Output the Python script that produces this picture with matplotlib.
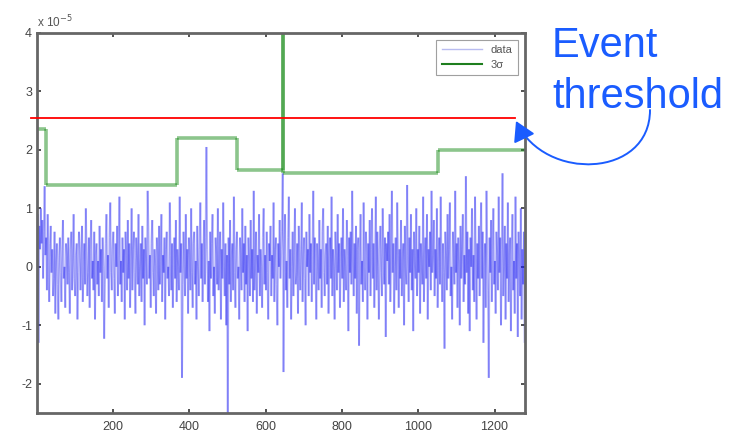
import matplotlib.pyplot as plt
import numpy as np
from matplotlib.collections import LineCollection
from matplotlib.lines import Line2D
from matplotlib.patches import FancyArrowPatch
from matplotlib.path import Path

plt.rcParams["font.family"] = ["Liberation Sans", "DejaVu Sans"]
plt.rcParams["axes.unicode_minus"] = False

# data trace (x 1e-5), one sample every 2 points
data_step = 2
data_vals = [
    0.5, 0.9, -1.3, 0.7, 0.3, 1.0, 0.4, 0.8, -0.2, 0.6, 1.38, 0.2, 0.5, -0.4, 0.9, 0.1, -0.6, 0.4, 0.7, -0.1,
    0.3, -0.5, -0.2, 0.6, -0.8, 0.1, 0.4, -0.3, -0.9, 0.2, 0.5, -0.1, -0.6, 0.3, 0.8, -0.2, 0.0, -0.7, 0.4, 0.2,
    -0.3, 0.5, -0.1, -0.8, 0.3, 0.6, -0.4, 0.1, 0.9, -0.2, -0.5, 0.2, 0.4, -0.9, -0.1, 0.6, 0.3, -0.4, 0.1, 0.7,
    -0.6, 0.0, 0.4, -0.3, 1.0, 0.2, -0.5, -0.1, 0.5, -0.7, 0.3, 0.8, -0.2, 0.1, -0.4, 0.6, -0.9, 0.2, 0.4, -0.3,
    0.1, -0.5, 0.7, -0.1, 0.3, -0.6, 0.5, 0.0, -1.23, -0.3, 0.4, 0.9, -0.2, 0.2, -0.7, 0.5, 1.1, -0.1, -0.4, 0.3,
    0.6, -0.2, -0.8, 0.4, 0.0, 0.7, -0.5, 0.2, 1.2, -0.3, 0.1, -0.6, 0.5, -0.1, 0.3, -0.9, 0.6, 0.2, -0.4, 0.8,
    -0.2, 0.4, -0.7, 0.1, 1.0, -0.4, 0.3, 0.6, -0.1, -0.8, 0.5, 0.2, -0.3, 0.9, -0.5, 0.0, 0.4, -0.6, 0.7, -0.2,
    0.3, -1.0, 0.5, 0.1, -0.3, 1.3, 0.6, -0.2, 0.2, -0.7, 0.4, 0.8, -0.1, -0.5, 0.3, 0.0, -0.8, 0.5, 0.2, -0.4,
    0.7, -0.3, 0.1, 0.9, -0.6, 0.2, -0.1, 0.5, -0.9, 0.3, 0.6, -0.2, 0.0, -0.5, 1.1, 0.2, -0.4, 0.4, -0.7, 0.1,
    0.5, -0.2, 0.8, -0.6, 0.3, 0.0, -0.4, 1.2, -0.1, 0.4, -1.9, -0.3, 0.6, 0.1, -0.5, 0.9, -0.2, 0.3, -0.8, 0.5,
    0.2, -0.4, 1.0, -0.1, -0.7, 0.4, 0.6, -0.3, 0.1, -0.9, 0.7, 0.0, -0.5, 0.3, 1.1, -0.2, 0.4, -0.6, 0.2, 0.8,
    -0.3, 0.5, 2.05, 0.3, -0.6, 0.1, -1.1, 0.6, -0.2, 0.4, 0.9, -0.5, 0.0, -0.8, 0.5, 0.2, -0.3, 1.0, -0.4, 0.1,
    0.6, -0.9, 0.3, -0.2, 1.1, 0.0, -0.5, 0.4, -1.0, 0.2, -2.5, 0.5, -0.3, 0.8, -0.6, 0.1, 0.4, -0.4, 1.2, -0.1,
    -0.7, 0.3, 0.6, -0.2, 0.0, -0.9, 0.5, 0.2, -0.4, 1.0, -0.1, 0.4, -0.6, 0.7, -0.3, 0.2, -1.1, 0.5, 0.1, -0.5,
    0.8, -0.2, 0.3, -0.6, 1.3, -0.4, 0.1, 0.6, -0.8, 0.2, -0.1, 0.9, -0.5, 0.3, 0.0, -0.7, 0.5, 1.0, -0.3, 0.2,
    -0.4, 0.6, -0.1, -0.9, 0.4, 0.1, 0.7, -0.5, 0.2, -0.2, 1.1, -0.6, 0.3, 0.5, -0.3, -1.0, 0.4, 0.0, 0.8, -0.2,
    0.3, 0.6, 1.6, -1.8, 0.2, 0.9, -0.4, 0.1, -0.7, 0.5, 1.2, -0.2, 0.3, -0.9, 0.0, 0.6, -0.5, 0.2, 1.0, -0.3,
    -0.1, 0.4, -0.8, 0.7, 0.1, -0.4, 0.3, 1.1, -0.6, 0.2, 0.5, -0.2, -1.0, 0.6, 0.0, 0.3, -0.5, 0.9, -0.1, 0.4,
    -0.6, 0.2, 1.3, -0.3, 0.5, 0.0, -0.9, 0.4, 0.1, -0.4, 0.8, -0.2, 0.3, -0.7, 0.6, 1.0, -0.1, -0.5, 0.2, 0.4,
    -0.3, 0.7, -0.8, 0.1, 0.5, -0.2, 1.2, -0.5, 0.3, 0.0, -0.9, 0.6, 0.2, -0.4, 0.9, -0.1, 0.4, -0.7, 0.1, 0.5,
    -0.2, 1.0, -0.6, 0.3, 0.0, -0.4, 0.8, 0.2, -1.1, 0.5, -0.1, 0.6, -0.3, 1.3, 0.1, -0.5, 0.4, -0.2, 0.7, -0.8,
    0.3, 0.5, -1.35, 0.2, 0.9, -0.3, 0.1, -0.6, 1.1, 0.0, -0.4, 0.6, 0.2, -0.9, 0.4, -0.1, 0.8, -0.5, 0.3, 1.0,
    -0.2, 0.4, -0.7, 0.1, 1.2, -0.4, 0.6, 0.0, -0.9, 0.3, 0.7, -0.1, -0.5, 1.0, 0.2, -0.3, 0.5, -1.2, 0.4, 0.1,
    0.6, -0.3, 0.9, -0.6, 0.2, 1.3, -0.1, 0.4, -0.8, 0.0, 0.5, -0.4, 1.1, 0.2, -0.7, 0.3, -0.2, 0.8, -0.5, 0.1,
    0.4, -1.0, 0.7, 0.0, -0.3, 1.4, 0.2, -0.6, 0.5, -0.1, 0.9, -0.4, 0.3, -1.1, 0.6, 0.1, -0.2, 1.0, -0.5, 0.3,
    -0.1, 0.7, -0.8, 0.4, 0.1, -0.3, 1.2, -0.6, 0.2, 0.5, -0.2, 0.9, -0.9, 0.3, 0.0, 0.6, -0.4, 1.3, -0.1, 0.2,
    0.8, -0.5, 0.3, -0.2, 1.0, -0.7, 0.1, 0.5, -0.3, 1.2, 0.0, -0.6, 0.4, -0.1, -1.4, 0.6, 0.2, -0.4, 0.9, -0.2,
    0.3, 1.1, -0.5, 0.0, -0.9, 0.6, 0.2, -0.3, 1.3, -0.1, 0.4, -0.7, 0.5, 0.1, -1.0, 0.7, -0.2, 0.3, 0.9, -0.6,
    0.2, -0.3, 1.55, -0.1, 0.6, -0.8, 0.3, -1.1, 0.5, 0.0, 1.0, -0.4, 0.2, -0.6, 1.2, 0.1, -0.9, 0.4, -0.2, 0.7,
    -0.5, 0.3, 1.1, -0.2, 0.6, -1.3, 0.0, 0.4, -0.7, 1.3, 0.2, -0.4, -1.9, 0.5, -0.1, 0.8, -0.6, 0.3, 1.0, -0.3,
    0.1, -0.8, 0.6, 0.2, -0.4, 1.2, -0.1, 0.5, -1.0, 0.3, 1.6, -0.5, 0.0, 0.7, -0.9, 0.4, -0.2, 1.1, -0.6, 0.2,
    0.5, -1.1, 0.3, 0.9, -0.4, 0.1, -0.8, 1.2, -0.2, 0.4, -1.2, 0.6, 0.0, -0.5, 1.0, -0.9, 0.3, -0.3, 0.6, -1.3,
]

# 3 sigma level per segment (x 1e-5), with the spike at spike_x
sigma_breaks = [1, 24, 368, 524, 645, 1052, 1280]
sigma_levels = [2.35, 1.4, 2.2, 1.65, 1.6, 2.0]
spike_x = 645
spike_top = 4.6

threshold = 2.55
threshold_span = (-15, 1255)

x_ticks = [200, 400, 600, 800, 1000, 1200]
y_ticks = [-2, -1, 0, 1, 2, 3, 4]

W, H = 740, 437
fig = plt.figure(figsize=(W / 100, H / 100), dpi=100)
ax = fig.add_axes([0.05, 0.055, 0.6595, 0.8695])

# noisy data, drawn as translucent segments so overlaps darken
data_x = 1 + data_step * np.arange(len(data_vals))
pts = np.column_stack([data_x, data_vals]).reshape(-1, 1, 2)
segs = np.concatenate([pts[:-1], pts[1:]], axis=1)
ax.add_collection(LineCollection(segs, colors=[(0.1, 0.1, 0.95, 0.33)], linewidths=1.4))

# 3 sigma step line
sx = np.repeat(sigma_breaks, 2)[1:-1].astype(float)
sy = np.repeat(sigma_levels, 2).astype(float)
k = int(np.where(sx == spike_x)[0][0])
sx = np.insert(sx, k + 1, spike_x)
sy = np.insert(sy, k + 1, spike_top)
g = np.column_stack([sx, sy]).reshape(-1, 1, 2)
gsegs = np.concatenate([g[:-1], g[1:]], axis=1)
ax.add_collection(LineCollection(gsegs, colors=[(0.1, 0.55, 0.1, 0.5)], linewidths=2.6))

ax.plot(threshold_span, [threshold, threshold], color="red", lw=1.3, clip_on=False, zorder=5)

ax.set_xlim(1, 1280)
ax.set_ylim(-2.5, 4)
ax.set_xticks(x_ticks)
ax.set_yticks(y_ticks)
ax.tick_params(direction="in", top=True, right=True, labelsize=9, labelcolor="#444444",
               color="#333333", length=3, width=1.2)
ax.tick_params(axis="x", pad=6)
for s in ax.spines.values():
    s.set_color("#666666")
    s.set_linewidth(2)

fig.text(0.05, 1 - 27 / H, r"x 10$^{-5}$", fontsize=8.5, color="#555555", ha="left", va="baseline")

handles = [Line2D([], [], color="#b8bcf0", lw=1), Line2D([], [], color="#1e7e1e", lw=1.5)]
leg = ax.legend(handles, ["data", "3σ"], loc="upper right", fontsize=8, frameon=True,
                fancybox=False, handlelength=3.6, borderaxespad=0.6, borderpad=0.5,
                labelspacing=0.4, handletextpad=0.8)
leg.get_frame().set_edgecolor("#888888")
leg.get_frame().set_linewidth(0.8)
for t in leg.get_texts():
    t.set_color("#555555")

blue = "#1a5cff"
fig.text(552 / W, 1 - 57 / H, "Event", fontsize=30, color=blue, ha="left", va="baseline")
fig.text(552 / W, 1 - 108 / H, "threshold", fontsize=30, color=blue, ha="left", va="baseline")

# curved arrow from under the text back to the end of the threshold line (pixel coords)
arrow_px = [(650, 110), (650, 178), (545, 182), (516, 121)]
arrow_path = Path([(x / W, 1 - y / H) for x, y in arrow_px],
                  [Path.MOVETO, Path.CURVE4, Path.CURVE4, Path.CURVE4])
arrow = FancyArrowPatch(path=arrow_path, transform=fig.transFigure,
                        arrowstyle="-|>,head_length=12,head_width=7", color=blue, lw=1.4)
fig.patches.append(arrow)

fig.savefig("out.png", dpi=100)
